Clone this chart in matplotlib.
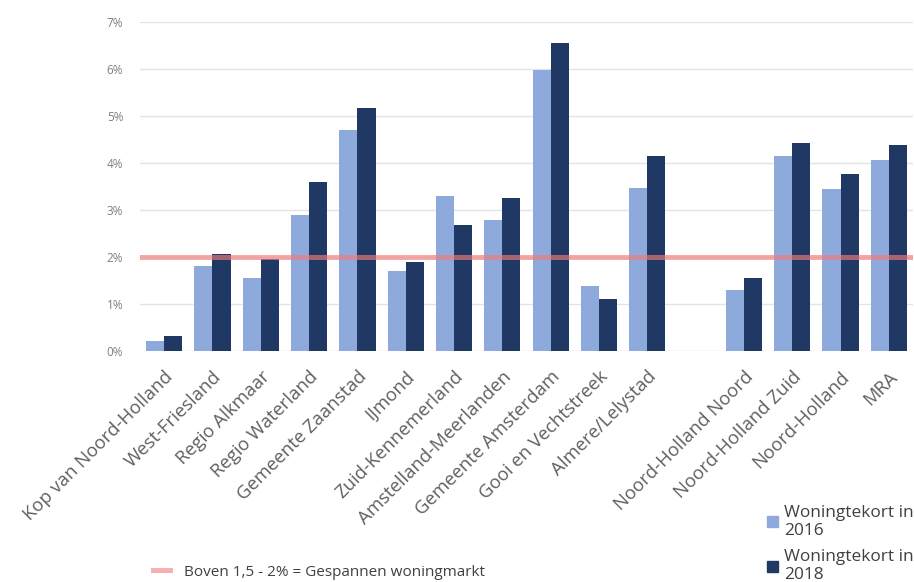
import matplotlib
matplotlib.use("Agg")
import matplotlib.pyplot as plt
import numpy as np
from matplotlib.patches import Patch
from matplotlib.lines import Line2D

plt.rcParams['font.family'] = ['Open Sans', 'DejaVu Sans']

categories = ["Kop van Noord-Holland", "West-Friesland", "Regio Alkmaar", "Regio Waterland",
              "Gemeente Zaanstad", "IJmond", "Zuid-Kennemerland", "Amstelland-Meerlanden",
              "Gemeente Amsterdam", "Gooi en Vechtstreek", "Almere/Lelystad", "",
              "Noord-Holland Noord", "Noord-Holland Zuid", "Noord-Holland", "MRA"]
tekort_2016 = [0.21, 1.81, 1.56, 2.89, 4.70, 1.71, 3.30, 2.78, 5.97, 1.39, 3.46, np.nan,
               1.29, 4.14, 3.44, 4.07]
tekort_2018 = [0.31, 2.06, 1.95, 3.60, 5.17, 1.90, 2.69, 3.25, 6.55, 1.10, 4.14, np.nan,
               1.56, 4.42, 3.77, 4.38]
threshold = 2.0
yticks = [0, 1, 2, 3, 4, 5, 6, 7]
label_2016 = "Woningtekort in\n2016"
label_2018 = "Woningtekort in\n2018"
label_line = "Boven 1,5 - 2% = Gespannen woningmarkt"

c16 = "#8EA9DB"
c18 = "#1F3864"
line_c = "#F07C7C"

fig = plt.figure(figsize=(9.14, 5.82), dpi=100)
ax = fig.add_axes([140/914, 1-351/582, 773/914, 329/582])

x = np.arange(len(categories))
w = 0.375
ax.bar(x - w/2, tekort_2016, width=w, color=c16, zorder=2)
ax.bar(x + w/2, tekort_2018, width=w, color=c18, zorder=2)
ax.axhline(threshold, color=line_c, lw=3.6, alpha=0.65, zorder=3)

ax.set_xlim(-0.5, len(categories) - 0.5)
ax.set_ylim(0, 7)
ax.set_yticks(yticks)
ax.set_yticklabels([f"{v}%" for v in yticks], fontsize=8.5, color="#7F7F7F")
ax.yaxis.grid(True, color="#E3E3E3", lw=1, zorder=0)
ax.set_axisbelow(True)
ax.set_xticks(x)
ax.set_xticklabels(categories, rotation=45, ha="right", rotation_mode="anchor",
                   fontsize=13.3, color="#606060")
ax.tick_params(axis="both", length=0)
ax.tick_params(axis="y", pad=12)
ax.tick_params(axis="x", pad=12)
for s in ax.spines.values():
    s.set_visible(False)

leg = fig.legend(handles=[Patch(color=c16), Patch(color=c18)], labels=[label_2016, label_2018],
                 loc="upper left", bbox_to_anchor=(767/914, 1-505/582), frameon=False,
                 fontsize=12.4, handlelength=0.62, handleheight=0.62, handletextpad=0.35,
                 labelspacing=0.62, borderaxespad=0, borderpad=0, labelcolor="#404040")
for t in leg.get_texts():
    t.set_linespacing(1.15)
fig.legend(handles=[Line2D([0], [0], color=line_c, lw=3.6, alpha=0.6)], labels=[label_line],
           loc="center left", bbox_to_anchor=(153/914, 1-572/582), frameon=False,
           fontsize=11, handlelength=1.1, handletextpad=0.9, borderaxespad=0, borderpad=0,
           labelcolor="#404040")

fig.savefig("out.png", dpi=100)
